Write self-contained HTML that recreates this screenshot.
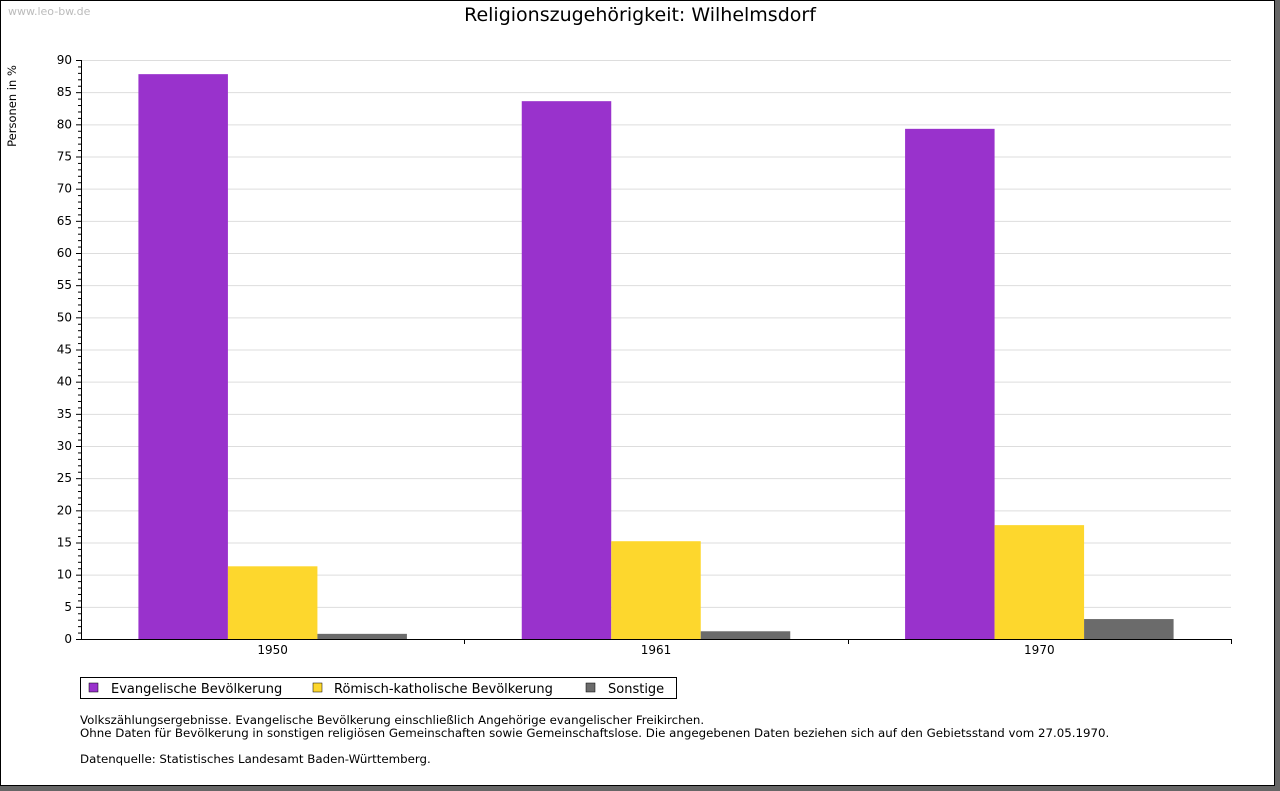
<!DOCTYPE html>
<html><head><meta charset="utf-8"><style>
body{margin:0;background:#666;width:1280px;height:791px;overflow:hidden}
svg{display:block;font-family:"DejaVu Sans","Liberation Sans",sans-serif}
</style></head><body>
<svg width="1280" height="791" xmlns="http://www.w3.org/2000/svg">
<rect x="0.5" y="0.5" width="1274" height="785" fill="#fff" stroke="#000"/>
<text x="8" y="15" font-size="11" fill="#bbb">www.leo-bw.de</text>
<text x="640" y="21" font-size="19" text-anchor="middle">Religionszugehörigkeit: Wilhelmsdorf</text>
<text transform="translate(16,106) rotate(-90)" font-size="11.5" text-anchor="middle">Personen in %</text>
<g id="grid"></g><g id="bars"></g><g id="axes"></g>
<g>
<rect x="80.5" y="677.5" width="596" height="21" fill="#fff" stroke="#000"/>
<rect x="89" y="683" width="9" height="9" fill="#9932cc" stroke="#000" stroke-width="0.5"/>
<text x="111" y="693" font-size="13">Evangelische Bevölkerung</text>
<rect x="313" y="683" width="9" height="9" fill="#fdd72d" stroke="#000" stroke-width="0.5"/>
<text x="334" y="693" font-size="13">Römisch-katholische Bevölkerung</text>
<rect x="586" y="683" width="9" height="9" fill="#6b6b6b" stroke="#000" stroke-width="0.5"/>
<text x="608" y="693" font-size="13">Sonstige</text>
</g>
<g font-size="11.8">
<text x="80" y="724">Volkszählungsergebnisse. Evangelische Bevölkerung einschließlich Angehörige evangelischer Freikirchen.</text>
<text x="80" y="737">Ohne Daten für Bevölkerung in sonstigen religiösen Gemeinschaften sowie Gemeinschaftslose. Die angegebenen Daten beziehen sich auf den Gebietsstand vom 27.05.1970.</text>
<text x="80" y="763">Datenquelle: Statistisches Landesamt Baden-Württemberg.</text>
</g>
</svg>
<script>
const categories=["1950","1961","1970"];
const evangelisch=[87.8,83.6,79.3];
const katholisch=[11.3,15.2,17.7];
const sonstige=[0.8,1.2,3.1];
const yTicks=[0,5,10,15,20,25,30,35,40,45,50,55,60,65,70,75,80,85,90];
const NS="http://www.w3.org/2000/svg";
const X0=81,X1=1231,Y0=639,Y1=60,YMAX=90;
const y=v=>Y0-(Y0-Y1)*v/YMAX;
const catW=(X1-X0)/categories.length;
const bw=89.5,pad=(catW-3*bw)/2;
function mk(t,a,p){const e=document.createElementNS(NS,t);for(const k in a)e.setAttribute(k,a[k]);p.appendChild(e);return e;}
const grid=document.getElementById('grid'),bars=document.getElementById('bars'),axes=document.getElementById('axes');
yTicks.forEach(t=>{
 if(t>0){const g=mk('line',{x1:X0,x2:X1,y1:y(t)+.5,y2:y(t)+.5,stroke:'#ddd'},grid);
 
 }
 const tl=mk('line',{x1:X0-5,x2:X0,y1:y(t)+.5,y2:y(t)+.5,stroke:'#000'},axes);
 
 
 const tx=mk('text',{x:X0-9,y:y(t)+4,'font-size':12,'text-anchor':'end'},axes);tx.textContent=t;
 
 
});
for(let v=1;v<YMAX;v++){if(v%5==0)continue;
 const m=mk('line',{x1:X0-3,x2:X0,y1:y(v)+.5,y2:y(v)+.5,stroke:'#000'},axes);
 
 }
const series=[[evangelisch,'#9932cc','evangelisch'],[katholisch,'#fdd72d','katholisch'],[sonstige,'#6b6b6b','sonstige']];
categories.forEach((c,i)=>{
 const gx=X0+i*catW;
 series.forEach((s,j)=>{
  const r=mk('rect',{x:gx+pad+j*bw,y:y(s[0][i]),width:bw,height:Y0-y(s[0][i]),fill:s[1]},bars);
  
  
 });
 const tx=mk('text',{x:gx+catW/2,y:654,'font-size':12,'text-anchor':'middle'},axes);tx.textContent=c;
 
 
 const tk=mk('line',{x1:Math.round(gx+catW)+.5,x2:Math.round(gx+catW)+.5,y1:Y0,y2:Y0+5,stroke:'#000'},axes);
 
 
});
const ya=mk('line',{x1:X0+.5,x2:X0+.5,y1:Y1,y2:Y0+1,stroke:'#000'},axes);


const xa=mk('line',{x1:X0,x2:X1,y1:Y0+.5,y2:Y0+.5,stroke:'#000'},axes);


</script>
</body></html>
